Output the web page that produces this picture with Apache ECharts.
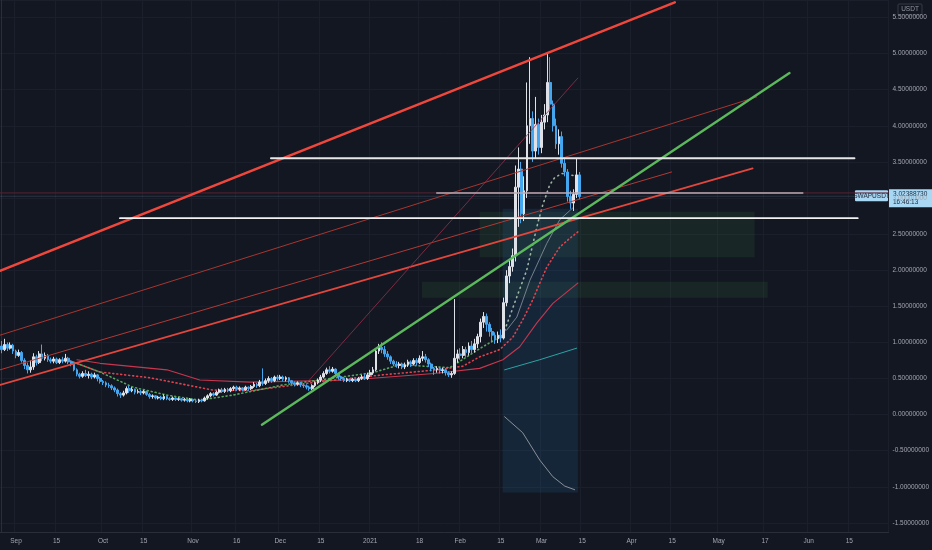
<!DOCTYPE html>
<html>
<head>
<meta charset="utf-8">
<script src="https://cdn.jsdelivr.net/npm/echarts@6/dist/echarts.min.js"></script>
<style>
html, body { margin: 0; background: #131722; }
#chart { width: 932px; height: 550px; }
</style>
</head>
<body>
<div id="chart"></div>
<script>
// daily categories, 2020-08-27 .. 2021-06-28
var startDay = Date.UTC(2020, 7, 27);
var dayCount = 306;

var tickDates = ['2020-09-01', '2020-09-15', '2020-10-01', '2020-10-15', '2020-11-01', '2020-11-16',
    '2020-12-01', '2020-12-15', '2021-01-01', '2021-01-18', '2021-02-01', '2021-02-15',
    '2021-03-01', '2021-03-15', '2021-04-01', '2021-04-15', '2021-05-01', '2021-05-17',
    '2021-06-01', '2021-06-15'];
var tickLabels = ['Sep', '15', 'Oct', '15', 'Nov', '16', 'Dec', '15', '2021', '18', 'Feb', '15',
    'Mar', '15', 'Apr', '15', 'May', '17', 'Jun', '15'];

// [open, close, low, high] per day from 2020-08-27
var candles = [
    [0.95, 0.90, 0.85, 1.02], [0.90, 0.97, 0.88, 1.05], [0.97, 0.92, 0.88, 1.00], [0.92, 0.96, 0.90, 1.00],
    [0.96, 0.88, 0.84, 0.98], [0.88, 0.82, 0.78, 0.90], [0.82, 0.86, 0.80, 0.90], [0.86, 0.75, 0.72, 0.88],
    [0.75, 0.68, 0.63, 0.78], [0.68, 0.62, 0.57, 0.72], [0.62, 0.66, 0.58, 0.75], [0.66, 0.80, 0.62, 0.85],
    [0.80, 0.72, 0.68, 0.83], [0.72, 0.84, 0.70, 0.88], [0.84, 0.78, 0.74, 0.97], [0.78, 0.82, 0.75, 0.86],
    [0.82, 0.76, 0.73, 0.84], [0.76, 0.74, 0.71, 0.79], [0.74, 0.77, 0.71, 0.80], [0.77, 0.72, 0.70, 0.79],
    [0.72, 0.76, 0.70, 0.78], [0.76, 0.74, 0.71, 0.80], [0.74, 0.78, 0.72, 0.84], [0.78, 0.73, 0.70, 0.80],
    [0.73, 0.70, 0.67, 0.75], [0.70, 0.62, 0.60, 0.72], [0.62, 0.56, 0.53, 0.64], [0.56, 0.53, 0.50, 0.58],
    [0.53, 0.57, 0.51, 0.60], [0.57, 0.54, 0.52, 0.62], [0.54, 0.56, 0.50, 0.60], [0.56, 0.52, 0.49, 0.58],
    [0.52, 0.55, 0.50, 0.58], [0.55, 0.50, 0.46, 0.56], [0.50, 0.46, 0.43, 0.52], [0.46, 0.44, 0.41, 0.48],
    [0.44, 0.41, 0.38, 0.46], [0.41, 0.40, 0.37, 0.44], [0.40, 0.37, 0.34, 0.42], [0.37, 0.34, 0.31, 0.39],
    [0.34, 0.29, 0.25, 0.36], [0.29, 0.27, 0.23, 0.31], [0.27, 0.30, 0.25, 0.33], [0.30, 0.36, 0.28, 0.39],
    [0.36, 0.33, 0.30, 0.40], [0.33, 0.35, 0.31, 0.38], [0.35, 0.31, 0.28, 0.36], [0.31, 0.32, 0.29, 0.35],
    [0.32, 0.30, 0.27, 0.34], [0.30, 0.32, 0.28, 0.34], [0.32, 0.28, 0.26, 0.33], [0.28, 0.25, 0.22, 0.30],
    [0.25, 0.26, 0.22, 0.28], [0.26, 0.23, 0.21, 0.27], [0.23, 0.24, 0.21, 0.26], [0.24, 0.22, 0.20, 0.26],
    [0.22, 0.25, 0.20, 0.28], [0.25, 0.22, 0.20, 0.26], [0.22, 0.21, 0.19, 0.24], [0.21, 0.23, 0.19, 0.25],
    [0.23, 0.21, 0.19, 0.24], [0.21, 0.22, 0.19, 0.24], [0.22, 0.20, 0.18, 0.23], [0.20, 0.21, 0.18, 0.23],
    [0.21, 0.19, 0.17, 0.22], [0.19, 0.21, 0.17, 0.23], [0.21, 0.19, 0.17, 0.22], [0.19, 0.18, 0.16, 0.21],
    [0.18, 0.20, 0.16, 0.22], [0.20, 0.19, 0.17, 0.22], [0.19, 0.23, 0.18, 0.25], [0.23, 0.26, 0.21, 0.28],
    [0.26, 0.29, 0.24, 0.31], [0.29, 0.27, 0.25, 0.31], [0.27, 0.31, 0.26, 0.33], [0.31, 0.34, 0.29, 0.36],
    [0.34, 0.32, 0.30, 0.37], [0.32, 0.35, 0.30, 0.37], [0.35, 0.33, 0.31, 0.37], [0.33, 0.36, 0.31, 0.38],
    [0.36, 0.38, 0.33, 0.40], [0.38, 0.35, 0.33, 0.40], [0.35, 0.37, 0.33, 0.39], [0.37, 0.34, 0.32, 0.38],
    [0.34, 0.38, 0.33, 0.40], [0.38, 0.36, 0.33, 0.39], [0.36, 0.39, 0.34, 0.41], [0.39, 0.42, 0.37, 0.45],
    [0.42, 0.40, 0.37, 0.44], [0.40, 0.45, 0.38, 0.48], [0.45, 0.43, 0.40, 0.64], [0.43, 0.47, 0.41, 0.50],
    [0.47, 0.50, 0.44, 0.53], [0.50, 0.47, 0.44, 0.52], [0.47, 0.52, 0.45, 0.54], [0.52, 0.50, 0.47, 0.55],
    [0.50, 0.52, 0.48, 0.55], [0.52, 0.49, 0.46, 0.54], [0.49, 0.51, 0.46, 0.53], [0.51, 0.47, 0.44, 0.52],
    [0.47, 0.44, 0.41, 0.48], [0.44, 0.42, 0.39, 0.46], [0.42, 0.44, 0.40, 0.46], [0.44, 0.41, 0.38, 0.45],
    [0.41, 0.40, 0.37, 0.43], [0.40, 0.38, 0.35, 0.42], [0.38, 0.36, 0.33, 0.40], [0.36, 0.40, 0.34, 0.42],
    [0.40, 0.44, 0.38, 0.46], [0.44, 0.48, 0.42, 0.50], [0.48, 0.52, 0.45, 0.55], [0.52, 0.57, 0.50, 0.60],
    [0.57, 0.62, 0.55, 0.65], [0.62, 0.60, 0.57, 0.67], [0.60, 0.63, 0.58, 0.66], [0.63, 0.57, 0.54, 0.64],
    [0.57, 0.52, 0.49, 0.58], [0.52, 0.50, 0.47, 0.54], [0.50, 0.47, 0.45, 0.52], [0.47, 0.49, 0.45, 0.51],
    [0.49, 0.47, 0.45, 0.50], [0.47, 0.49, 0.45, 0.51], [0.49, 0.47, 0.45, 0.50], [0.47, 0.50, 0.45, 0.52],
    [0.50, 0.52, 0.48, 0.55], [0.52, 0.50, 0.48, 0.56], [0.50, 0.55, 0.48, 0.58], [0.55, 0.58, 0.52, 0.62],
    [0.58, 0.62, 0.55, 0.66], [0.62, 0.88, 0.60, 0.92], [0.88, 0.93, 0.84, 0.98], [0.93, 0.90, 0.85, 1.00],
    [0.90, 0.84, 0.80, 0.95], [0.84, 0.80, 0.76, 0.88], [0.80, 0.74, 0.70, 0.82], [0.74, 0.70, 0.67, 0.76],
    [0.70, 0.68, 0.65, 0.74], [0.68, 0.70, 0.64, 0.73], [0.70, 0.66, 0.63, 0.72], [0.66, 0.69, 0.63, 0.72],
    [0.69, 0.73, 0.66, 0.76], [0.73, 0.70, 0.66, 0.75], [0.70, 0.75, 0.68, 0.78], [0.75, 0.72, 0.68, 0.78],
    [0.72, 0.78, 0.70, 0.82], [0.78, 0.80, 0.74, 0.88], [0.80, 0.76, 0.72, 0.84], [0.76, 0.70, 0.66, 0.78],
    [0.70, 0.64, 0.60, 0.72], [0.64, 0.62, 0.55, 0.66], [0.62, 0.64, 0.58, 0.67], [0.64, 0.61, 0.57, 0.66],
    [0.61, 0.62, 0.57, 0.65], [0.62, 0.58, 0.54, 0.64], [0.58, 0.55, 0.52, 0.60], [0.55, 0.57, 0.51, 0.60],
    [0.57, 0.78, 0.55, 1.60], [0.78, 0.84, 0.72, 0.90], [0.84, 0.82, 0.76, 0.92], [0.82, 0.90, 0.78, 0.95],
    [0.90, 0.86, 0.80, 0.94], [0.86, 0.95, 0.82, 1.00], [0.95, 0.90, 0.85, 1.02], [0.90, 0.98, 0.86, 1.05],
    [0.98, 1.08, 0.92, 1.12], [1.08, 1.28, 1.00, 1.33], [1.28, 1.36, 1.20, 1.42], [1.36, 1.25, 1.15, 1.40],
    [1.25, 1.15, 1.08, 1.28], [1.15, 1.10, 1.00, 1.20], [1.10, 1.05, 0.98, 1.14], [1.05, 1.10, 0.99, 1.15],
    [1.10, 1.06, 1.00, 1.18], [1.06, 1.55, 1.04, 1.62], [1.55, 1.92, 1.50, 2.00], [1.92, 2.05, 1.82, 2.15],
    [2.05, 2.20, 1.98, 2.30], [2.20, 3.15, 2.12, 3.45], [3.15, 3.40, 2.60, 3.70], [3.40, 2.78, 2.65, 3.50],
    [2.78, 3.10, 2.68, 3.30], [3.10, 4.00, 3.00, 4.60], [4.00, 4.10, 3.75, 4.95], [4.10, 3.65, 3.50, 4.20],
    [3.65, 4.02, 3.55, 4.40], [4.02, 3.70, 3.60, 4.10], [3.70, 4.05, 3.62, 4.15], [4.05, 4.15, 3.95, 4.30],
    [4.15, 4.60, 4.05, 5.00], [4.60, 4.30, 4.20, 4.95], [4.30, 4.00, 3.92, 4.35], [4.00, 3.75, 3.68, 4.10],
    [3.75, 3.85, 3.60, 3.95], [3.85, 3.48, 3.42, 3.92], [3.48, 3.36, 3.30, 3.55], [3.36, 3.02, 2.95, 3.40],
    [3.02, 2.93, 2.85, 3.10], [2.93, 3.05, 2.82, 3.12], [3.05, 3.32, 3.00, 3.55], [3.32, 3.02, 2.98, 3.36]
];
var lastPrice = 3.02388730;

// indicator lines as [day index, price]
var redMA = [[22.6, 0.76], [33.9, 0.59], [51.1, 0.51], [72.8, 0.34], [85.6, 0.33], [108.6, 0.45],
    [131.3, 0.55], [149.9, 0.62], [158.9, 0.67], [164.7, 0.80], [171.6, 0.90], [176.1, 1.07],
    [179.5, 1.31], [183.0, 1.59], [185.4, 1.82], [187.8, 2.04], [192.3, 2.32], [195.7, 2.44], [198.5, 2.53]];
var greenMA = [[24.6, 0.73], [33.9, 0.59], [45.3, 0.38], [57.0, 0.27], [68.3, 0.20], [79.7, 0.27],
    [96.9, 0.41], [127.9, 0.58], [137.2, 0.69], [154.4, 0.65], [165.8, 0.94], [172.7, 1.10]];
var paleMA = [[172.7, 1.10], [177.5, 1.63], [180.9, 2.00], [184.7, 2.65], [186.4, 2.90], [188.8, 3.18],
    [190.5, 3.28], [193.0, 3.34], [198.5, 3.30]];
var pinkMA = [[26.0, 0.76], [34.0, 0.71], [57.0, 0.62], [68.3, 0.48], [85.6, 0.45], [120.0, 0.48],
    [149.0, 0.57], [164.7, 0.64], [172.7, 0.76], [178.5, 0.94], [184.4, 1.27], [189.9, 1.54], [198.5, 1.82]];
var basisLine = [[173.3, 0.62], [185.4, 0.76], [198.1, 0.92]];
var upperBand = [[174.0, 1.17], [177.5, 1.35], [182.0, 1.86], [187.8, 2.37], [192.3, 2.70], [196.7, 2.86]];
var lowerBand = [[173.3, -0.03], [179.5, -0.25], [185.4, -0.63], [189.9, -0.86], [194.0, -0.99], [197.4, -1.04]];

// drawn trend lines: [[x1, y1], [x2, y2]] in day index / price
var thickRedLine = [[-0.5, 1.99], [231.9, 5.71]];
var thinRedLine1 = [[-0.5, 1.10], [260.1, 4.40]];
var thinRedLine2 = [[-0.5, 0.62], [230.8, 3.36]];
var midRedLine = [[-0.5, 0.41], [258.7, 3.41]];
var steepRedLine = [[105.2, 0.44], [198.5, 4.66]];
var greenLine = [[89.7, -0.14], [271.4, 4.73]];
var resistLine = [[92.8, 3.55], [293.8, 3.55]];
var supportLine = [[40.8, 2.72], [294.9, 2.72]];
var paleLine = [[149.9, 3.07], [276.0, 3.07]];
var redLevel = [[-0.5, 3.07], [305.5, 3.07]];
var priceLevel = [[-0.5, lastPrice], [305.5, lastPrice]];

// zones: [x1, y1, x2, y2]
var greenZones = [[164.7, 2.81, 259.4, 2.18], [144.8, 1.84, 263.9, 1.62]];
var blueZone = [172.6, 2.85, 198.5, -1.08];

var dates = [];
for (var i = 0; i < dayCount; i++) {
    dates.push(new Date(startDay + i * 86400000).toISOString().slice(0, 10));
}

function isTick(index, value) {
    return tickDates.indexOf(value) >= 0;
}

function lineSeries(name, data, color, width, type, z) {
    return {
        name: name,
        type: 'line',
        xAxisIndex: 1,
        data: data,
        showSymbol: false,
        silent: true,
        z: z || 4,
        lineStyle: {color: color, width: width, type: type || 'solid', cap: 'round'}
    };
}

var zoneAreas = greenZones.map(function (g) {
    return [{coord: [g[0], g[1]], itemStyle: {color: 'rgba(76,175,80,0.10)'}}, {coord: [g[2], g[3]]}];
});
zoneAreas.push([{coord: [blueZone[0], blueZone[1]], itemStyle: {color: 'rgba(41,121,180,0.16)'}},
    {coord: [blueZone[2], blueZone[3]]}]);

var chart = echarts.init(document.getElementById('chart'));
var option = {
    backgroundColor: '#131722',
    animation: false,
    textStyle: {fontFamily: 'Liberation Sans'},
    grid: {left: 0, right: 43, top: 0, bottom: 18},
    xAxis: [
        {
            type: 'category',
            data: dates,
            boundaryGap: true,
            axisLine: {onZero: false, lineStyle: {color: '#2a2e39'}},
            axisTick: {show: false},
            axisLabel: {
                interval: isTick,
                color: '#a3a6af',
                fontSize: 6.5,
                margin: 6,
                formatter: function (v) { return tickLabels[tickDates.indexOf(v)]; }
            },
            splitLine: {show: true, interval: isTick, lineStyle: {color: '#1b1f2b', width: 1}}
        },
        {
            type: 'value',
            min: -0.5,
            max: dayCount - 0.5,
            show: false
        }
    ],
    yAxis: {
        type: 'value',
        position: 'right',
        min: -1.626,
        max: 5.742,
        splitNumber: 15,
        scale: true,
        axisLine: {show: true, lineStyle: {color: '#2a2e39'}},
        axisTick: {show: false},
        axisLabel: {
            color: '#a3a6af',
            fontSize: 6.5,
            margin: 4,
            showMinLabel: false,
            showMaxLabel: false,
            formatter: function (v) { return v.toFixed(8); }
        },
        splitLine: {lineStyle: {color: '#1b1f2b', width: 1}}
    },
    series: [
        {
            name: 'zones',
            type: 'line',
            xAxisIndex: 1,
            data: [],
            z: 1,
            silent: true,
            markArea: {silent: true, data: zoneAreas}
        },
        {
            name: 'SWAPUSDT',
            type: 'candlestick',
            data: candles,
            barWidth: '78%',
            z: 3,
            itemStyle: {
                color: '#dfe1e8',
                color0: '#45a6f0',
                borderColor: '#dfe1e8',
                borderColor0: '#45a6f0',
                borderWidth: 1
            }
        },
        lineSeries('pink', pinkMA, '#c7364f', 1.1, 'solid', 2),
        lineSeries('redMA', redMA, '#e0424f', 1.6, [1, 3], 2),
        lineSeries('greenMA', greenMA, '#58a55c', 1.6, [1, 3], 2),
        lineSeries('paleMA', paleMA, '#9fb5a4', 1.6, [1, 4], 2),
        lineSeries('basis', basisLine, '#2aa3a3', 1, 'solid', 2),
        lineSeries('upper', upperBand, '#8d96a0', 0.8, 'solid', 2),
        lineSeries('lower', lowerBand, '#a7a9b0', 0.8, 'solid', 2),
        lineSeries('redLevel', redLevel, '#5a2233', 1, 'solid', 2),
        lineSeries('price', priceLevel, 'rgba(120,140,160,0.25)', 1, 'solid', 2),
        lineSeries('thickRed', thickRedLine, '#f0473d', 2.4),
        lineSeries('thinRed1', thinRedLine1, '#a8362f', 1),
        lineSeries('thinRed2', thinRedLine2, '#b13a34', 1),
        lineSeries('midRed', midRedLine, '#e3463c', 1.8),
        lineSeries('steepRed', steepRedLine, '#94304a', 0.8),
        lineSeries('green', greenLine, '#5cb85c', 2.4),
        lineSeries('resist', resistLine, '#e6e6e6', 1.8),
        lineSeries('support', supportLine, '#f2f2f2', 1.8),
        lineSeries('pale', paleLine, '#b9aab4', 1.4)
    ]
};
chart.setOption(option);

var py = chart.convertToPixel({yAxisIndex: 0}, lastPrice);
chart.setOption({
    graphic: [
        {
            type: 'rect', shape: {x: 898, y: 4, width: 24, height: 11, r: 1},
            style: {fill: '#131722', stroke: '#363a45', lineWidth: 1}
        },
        {
            type: 'text', x: 910, y: 9.5,
            style: {text: 'USDT', fill: '#9598a1', font: '6.5px Liberation Sans', align: 'center', verticalAlign: 'middle'}
        },
        {
            type: 'rect', shape: {x: 855, y: py - 6, width: 33, height: 11, r: 1},
            style: {fill: '#a9d8f5'}
        },
        {
            type: 'text', x: 871.5, y: py - 0.5,
            style: {text: 'SWAPUSDT', fill: '#1a2636', font: '6.5px Liberation Sans', align: 'center', verticalAlign: 'middle'}
        },
        {
            type: 'rect', shape: {x: 889, y: py - 7, width: 43, height: 18},
            style: {fill: '#a9d8f5'}
        },
        {
            type: 'text', x: 893, y: py - 2.5,
            style: {text: lastPrice.toFixed(8), fill: '#1a2636', font: '6.5px Liberation Sans', verticalAlign: 'middle'}
        },
        {
            type: 'text', x: 893, y: py + 5.5,
            style: {text: '16:46:13', fill: '#1a2636', font: '6.5px Liberation Sans', verticalAlign: 'middle'}
        }
    ]
});
</script>
</body>
</html>
